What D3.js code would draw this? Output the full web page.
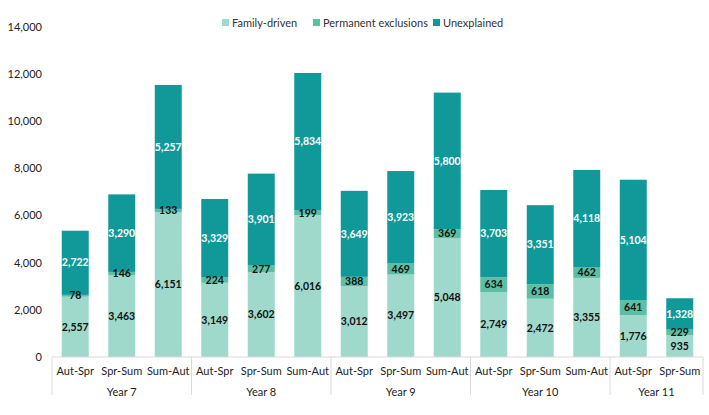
<!DOCTYPE html>
<html>
<head>
<meta charset="utf-8">
<script src="https://cdn.jsdelivr.net/npm/d3@7"></script>
<style>
  body { margin: 0; background: #fff; }
  svg { font-family: Lato, "Open Sans", sans-serif; }
</style>
</head>
<body>
<div id="chart"></div>
<script>
// data
const years = ['Year 7', 'Year 8', 'Year 9', 'Year 10', 'Year 11'];
const terms = [
  ['Aut-Spr', 'Spr-Sum', 'Sum-Aut'],
  ['Aut-Spr', 'Spr-Sum', 'Sum-Aut'],
  ['Aut-Spr', 'Spr-Sum', 'Sum-Aut'],
  ['Aut-Spr', 'Spr-Sum', 'Sum-Aut'],
  ['Aut-Spr', 'Spr-Sum']
];
const familyDriven = [2557, 3463, 6151, 3149, 3602, 6016, 3012, 3497, 5048, 2749, 2472, 3355, 1776, 935];
const permanentExclusions = [78, 146, 133, 224, 277, 199, 388, 469, 369, 634, 618, 462, 641, 229];
const unexplained = [2722, 3290, 5257, 3329, 3901, 5834, 3649, 3923, 5800, 3703, 3351, 4118, 5104, 1328];
const seriesNames = ['Family-driven', 'Permanent exclusions', 'Unexplained'];
const yTicks = [0, 2000, 4000, 6000, 8000, 10000, 12000, 14000];

const colors = ['#9fd9cb', '#5cbfa4', '#11999a'];
const labelColors = ['#111', '#111', '#fff'];

const width = 709, height = 415;
const margin = { top: 27, right: 6, bottom: 58, left: 52 };

// flat list of categories
const cats = [];
years.forEach((y, yi) => terms[yi].forEach(t => cats.push({ year: y, term: t, key: y + '|' + t })));
const rows = cats.map((c, i) => ({ key: c.key, f: familyDriven[i], p: permanentExclusions[i], u: unexplained[i] }));

const svg = d3.select('#chart').append('svg')
  .attr('width', width)
  .attr('height', height);

const x = d3.scaleBand()
  .domain(cats.map(c => c.key))
  .range([margin.left, width - margin.right])
  .paddingInner(0.42)
  .paddingOuter(0.21);

const y = d3.scaleLinear()
  .domain([0, 14000])
  .range([height - margin.bottom, margin.top]);

const stack = d3.stack().keys(['f', 'p', 'u']);
const layers = stack(rows);

// y axis labels
svg.append('g')
  .selectAll('text')
  .data(yTicks)
  .enter()
  .append('text')
  .attr('x', margin.left - 10)
  .attr('y', d => y(d))
  .attr('dy', '0.35em')
  .attr('text-anchor', 'end')
  .attr('font-size', 11)
  .attr('fill', '#222')
  .text(d => d3.format(',')(d));

// bars
layers.forEach((layer, li) => {
  svg.append('g')
    .selectAll('rect')
    .data(layer)
    .enter()
    .append('rect')
    .attr('x', d => x(d.data.key))
    .attr('width', x.bandwidth())
    .attr('y', d => y(d[1]))
    .attr('height', d => y(d[0]) - y(d[1]))
    .attr('fill', colors[li]);
});

// value labels
layers.forEach((layer, li) => {
  svg.append('g')
    .selectAll('text')
    .data(layer)
    .enter()
    .append('text')
    .attr('x', d => x(d.data.key) + x.bandwidth() / 2)
    .attr('y', d => y((d[0] + d[1]) / 2))
    .attr('dy', '0.35em')
    .attr('text-anchor', 'middle')
    .attr('font-size', 10.5)
    .attr('font-weight', 'bold')
    .attr('fill', labelColors[li])
    .text(d => d3.format(',')(d[1] - d[0]));
});

// x axis: baseline, category labels, year groups
const base = y(0);
svg.append('line')
  .attr('x1', margin.left).attr('x2', width - margin.right)
  .attr('y1', base).attr('y2', base)
  .attr('stroke', '#d9d9d9');

svg.append('g')
  .selectAll('text')
  .data(cats)
  .enter()
  .append('text')
  .attr('x', d => x(d.key) + x.bandwidth() / 2)
  .attr('y', base + 18)
  .attr('text-anchor', 'middle')
  .attr('font-size', 11)
  .attr('fill', '#222')
  .text(d => d.term);

const step = x.step();
let idx = 0;
const groups = years.map((yr, yi) => {
  const start = idx;
  idx += terms[yi].length;
  return { year: yr, x0: margin.left + start * step, x1: margin.left + idx * step };
});
const seps = [margin.left].concat(groups.map(g => g.x1));
svg.append('g')
  .selectAll('line')
  .data(seps)
  .enter()
  .append('line')
  .attr('x1', d => d).attr('x2', d => d)
  .attr('y1', base).attr('y2', base + 38)
  .attr('stroke', '#d9d9d9');

svg.append('g')
  .selectAll('text')
  .data(groups)
  .enter()
  .append('text')
  .attr('x', d => (d.x0 + d.x1) / 2)
  .attr('y', base + 39)
  .attr('text-anchor', 'middle')
  .attr('font-size', 11)
  .attr('fill', '#222')
  .text(d => d.year);

// legend
const legendX = [222, 313, 433];
const legend = svg.append('g')
  .selectAll('g')
  .data(seriesNames)
  .enter()
  .append('g')
  .attr('transform', (d, i) => 'translate(' + legendX[i] + ',23)');
legend.append('rect')
  .attr('x', 0).attr('y', -4)
  .attr('width', 7).attr('height', 7)
  .attr('fill', (d, i) => colors[i]);
legend.append('text')
  .attr('x', 10)
  .attr('y', 0)
  .attr('dy', '0.35em')
  .attr('font-size', 11)
  .attr('fill', '#333')
  .text(d => d);
</script>
</body>
</html>
